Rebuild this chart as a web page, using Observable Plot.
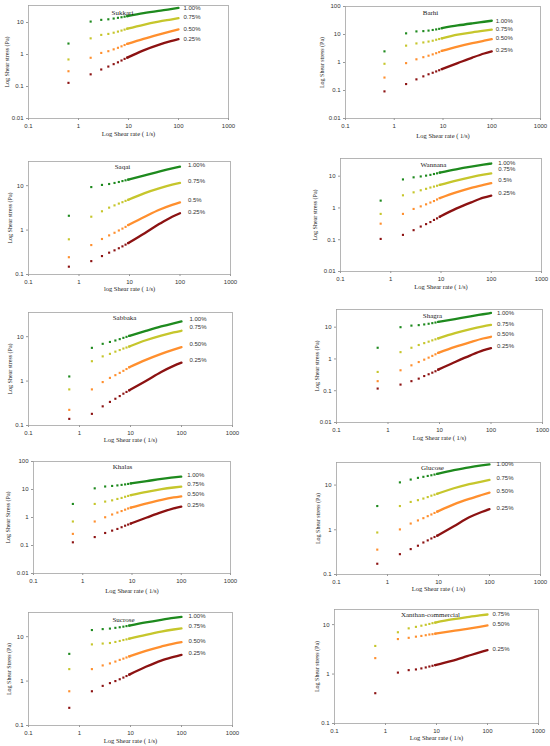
<!DOCTYPE html>
<html><head><meta charset="utf-8">
<script src="https://cdn.jsdelivr.net/npm/d3@7"></script>
<script src="https://cdn.jsdelivr.net/npm/@observablehq/plot@0.6"></script>
<style>
body{margin:0;background:#fff}
#wrap{position:relative;width:550px;height:746px;overflow:hidden;background:#fff}
.panel{position:absolute}
</style>
</head><body><div id="wrap"></div>
<script>
// ---- data ----
const shearRate = [0.63, 1.75, 2.85, 3.95, 5.05, 6.15, 7.25, 8.35, 9.45, 20, 40, 70, 100];
const conc4 = ["1.00%", "0.75%", "0.50%", "0.25%"];
const conc3 = ["0.75%", "0.50%", "0.25%"];
const xTicks = [0.1, 1, 10, 100, 1000];

const sukkari100 = [2.2, 10.7, 12.1, 12.6, 13.3, 14.0, 14.6, 15.2, 15.8, 19.5, 23, 26, 28.5];
const sukkari075 = [0.70, 3.2, 4.1, 4.4, 4.8, 5.2, 5.6, 6.0, 6.4, 8.5, 10.6, 12.4, 13.7];
const sukkari050 = [0.30, 0.79, 1.12, 1.27, 1.45, 1.62, 1.8, 1.98, 2.15, 3.1, 4.2, 5.3, 6.1];
const sukkari025 = [0.13, 0.24, 0.34, 0.42, 0.5, 0.57, 0.65, 0.73, 0.8, 1.35, 2.0, 2.6, 3.0];
const sukkariLabels = ["1.00%", "0.75%", "0.50%", "0.25%"];
const sukkariLabelY = [28, 14.4, 6.3, 3.1];

const barhi100 = [2.5, 11, 12.9, 13.2, 13.8, 14.5, 15.2, 15.9, 16.8, 21, 25, 28.5, 31];
const barhi075 = [0.9, 4.0, 4.8, 5.2, 5.6, 6.0, 6.5, 6.9, 7.3, 9.8, 12, 13.7, 14.8];
const barhi050 = [0.29, 0.95, 1.3, 1.55, 1.75, 1.95, 2.15, 2.35, 2.6, 3.7, 4.9, 6.0, 6.8];
const barhi025 = [0.093, 0.17, 0.25, 0.32, 0.38, 0.43, 0.48, 0.53, 0.58, 0.95, 1.5, 2.1, 2.5];
const barhiLabels = ["1.00%", "0.75%", "0.50%", "0.25%"];
const barhiLabelY = [31, 16, 7.7, 2.7];

const saqai100 = [2.1, 9.3, 10.4, 10.9, 11.5, 12.1, 12.7, 13.2, 13.7, 17, 21, 24.5, 26.7];
const saqai075 = [0.62, 2.0, 2.65, 3.2, 3.6, 3.95, 4.25, 4.55, 4.8, 6.8, 8.8, 10.5, 11.5];
const saqai050 = [0.245, 0.46, 0.63, 0.76, 0.87, 0.98, 1.08, 1.18, 1.3, 2.0, 2.9, 3.7, 4.2];
const saqai025 = [0.15, 0.2, 0.26, 0.31, 0.35, 0.39, 0.43, 0.47, 0.51, 0.85, 1.4, 2.0, 2.4];
const saqaiLabels = ["1.00%", "0.75%", "0.5%", "0.25%"];
const saqaiLabelY = [29, 12.9, 4.8, 2.5];

const wannana100 = [1.7, 7.9, 9.2, 9.8, 10.4, 11, 11.7, 12.3, 13, 16.5, 20, 23, 25];
const wannana075 = [0.65, 2.5, 3.1, 3.6, 4.0, 4.4, 4.7, 5.0, 5.3, 7.3, 9.4, 11.2, 12.3];
const wannana050 = [0.32, 0.65, 0.93, 1.12, 1.3, 1.48, 1.65, 1.85, 2.05, 3.1, 4.3, 5.3, 6.0];
const wannana025 = [0.106, 0.142, 0.2, 0.26, 0.31, 0.36, 0.42, 0.47, 0.53, 0.95, 1.5, 2.1, 2.45];
const wannanaLabels = ["1.00%", "0.75%", "0.5%", "0.25%"];
const wannanaLabelY = [26, 16.3, 7.3, 2.9];

const sabbaka100 = [1.27, 5.6, 6.9, 7.6, 8.2, 8.8, 9.4, 9.9, 10.4, 13.5, 17, 20, 22];
const sabbaka075 = [0.65, 2.8, 3.6, 4.1, 4.6, 5.0, 5.4, 5.7, 6.0, 8.3, 10.6, 12.5, 13.6];
const sabbaka050 = [0.225, 0.65, 0.95, 1.18, 1.36, 1.53, 1.7, 1.87, 2.05, 3.0, 4.1, 5.1, 5.8];
const sabbaka025 = [0.141, 0.183, 0.27, 0.34, 0.4, 0.46, 0.52, 0.57, 0.62, 1.0, 1.6, 2.2, 2.6];
const sabbakaLabels = ["1.00%", "0.75%", "0.50%", "0.25%"];
const sabbakaLabelY = [24.6, 16.5, 6.7, 3.0];

const shagra100 = [2.25, 10, 11.2, 11.6, 12.2, 12.8, 13.4, 14, 14.6, 18, 22, 25.5, 28];
const shagra075 = [0.39, 1.64, 2.25, 2.75, 3.15, 3.5, 3.85, 4.15, 4.45, 6.5, 8.7, 10.6, 11.8];
const shagra050 = [0.2, 0.44, 0.63, 0.8, 0.95, 1.1, 1.25, 1.4, 1.55, 2.4, 3.4, 4.4, 5.0];
const shagra025 = [0.117, 0.156, 0.2, 0.24, 0.29, 0.33, 0.37, 0.41, 0.46, 0.8, 1.3, 1.85, 2.2];
const shagraLabels = ["1.00%", "0.75%", "0.50%", "0.25%"];
const shagraLabelY = [28, 12.7, 6.0, 2.5];

const khalas100 = [3.05, 11, 12.8, 13.4, 14, 14.6, 15.2, 15.8, 16.5, 20, 24, 27, 29];
const khalas075 = [0.72, 3.05, 3.7, 4.1, 4.6, 5.0, 5.5, 5.9, 6.3, 8.3, 10.3, 11.8, 12.7];
const khalas050 = [0.26, 0.72, 1.02, 1.28, 1.5, 1.7, 1.9, 2.1, 2.25, 3.2, 4.3, 5.2, 5.7];
const khalas025 = [0.13, 0.2, 0.28, 0.34, 0.39, 0.45, 0.51, 0.56, 0.61, 1.0, 1.55, 2.1, 2.45];
const khalasLabels = ["1.00%", "0.75%", "0.50%", "0.25%"];
const khalasLabelY = [31.6, 16.1, 6.8, 2.75];

const glucose100 = [3.4, 11.5, 13.3, 14.5, 15.3, 16, 16.6, 17.2, 17.8, 21.5, 25, 27.5, 29];
const glucose075 = [0.87, 3.4, 4.2, 4.6, 5.0, 5.4, 5.8, 6.1, 6.4, 8.5, 10.5, 12, 13];
const glucose050 = [0.36, 1.02, 1.38, 1.62, 1.82, 2.02, 2.2, 2.38, 2.55, 3.7, 4.9, 6.0, 6.8];
const glucose025 = [0.174, 0.285, 0.37, 0.44, 0.52, 0.58, 0.64, 0.69, 0.74, 1.2, 1.9, 2.5, 2.9];
const glucoseLabels = ["1.00%", "0.75%", "0.50%", "0.25%"];
const glucoseLabelY = [29, 14, 7.3, 3.1];

const sucrose100 = [4.1, 14.1, 14.8, 15.2, 15.8, 16.3, 16.8, 17.3, 17.8, 21, 24, 26.5, 28];
const sucrose075 = [1.86, 6.7, 7.0, 7.2, 7.6, 8.0, 8.4, 8.7, 9.0, 11, 13, 14.5, 15.4];
const sucrose050 = [0.59, 1.86, 2.25, 2.5, 2.75, 3.0, 3.2, 3.4, 3.6, 4.8, 6.0, 7.0, 7.5];
const sucrose025 = [0.25, 0.59, 0.78, 0.9, 1.0, 1.1, 1.2, 1.3, 1.4, 2.1, 2.9, 3.5, 3.9];
const sucroseLabels = ["1.00%", "0.75%", "0.50%", "0.25%"];
const sucroseLabelY = [29, 17, 8.1, 4.2];

const xanthan075 = [3.7, 7.0, 8.4, 9.0, 9.5, 9.9, 10.3, 10.7, 11.0, 12.7, 14.2, 15.3, 16];
const xanthan050 = [2.1, 5.1, 5.4, 5.7, 5.9, 6.1, 6.3, 6.4, 6.55, 7.4, 8.2, 9.0, 9.6];
const xanthan025 = [0.41, 1.07, 1.2, 1.24, 1.3, 1.36, 1.42, 1.47, 1.52, 1.85, 2.3, 2.75, 3.05];
const xanthanLabels = ["0.75%", "0.50%", "0.25%"];
const xanthanLabelY = [16.5, 10.3, 3.25];

const yTicksA = [0.01, 0.1, 1, 10];
const yTicksB = [0.01, 0.1, 1, 10, 100];
const yTicksC = [0.1, 1, 10];

// ---- layout / style ----
const colorDomain = ["1.00%", "0.75%", "0.50%", "0.25%"];
const colorRange = ["#1e8a1e", "#c6c62c", "#ff8f2e", "#8c1212"];
const serif = "Liberation Serif, Times New Roman, serif";
const sans = "Liberation Sans, Arial, sans-serif";
const yLab = "Log Shear stress (Pa)";
const xLab = "Log Shear rate ( 1/s)";

const panels = [
  {title:"Sukkari", series:[sukkari100,sukkari075,sukkari050,sukkari025], conc:conc4, labels:sukkariLabels, labelY:sukkariLabelY,
   yDomain:[0.01,34], yTicks:yTicksA, off:[0,0], L:28,R:228,T:5,B:118, ylabX:7, xlabY:133, tx:122, ty:12, ldx:5, ylab:yLab, xlab:xLab},
  {title:"Barhi", series:[barhi100,barhi075,barhi050,barhi025], conc:conc4, labels:barhiLabels, labelY:barhiLabelY,
   yDomain:[0.01,100], yTicks:yTicksB, off:[275,0], L:345,R:540,T:6,B:118, ylabX:322, xlabY:135, tx:430, ty:12, ldx:4, ylab:yLab, xlab:xLab},
  {title:"Saqai", series:[saqai100,saqai075,saqai050,saqai025], conc:conc4, labels:saqaiLabels, labelY:saqaiLabelY,
   yDomain:[0.1,35], yTicks:yTicksC, off:[0,150], L:28,R:230,T:161,B:274, ylabX:10, xlabY:288, tx:122, ty:166, ldx:8, ylab:yLab, xlab:"log Shear rate ( 1/s)"},
  {title:"Wannana", series:[wannana100,wannana075,wannana050,wannana025], conc:conc4, labels:wannanaLabels, labelY:wannanaLabelY,
   yDomain:[0.01,36], yTicks:yTicksA, off:[275,150], L:340,R:541,T:158,B:271, ylabX:315, xlabY:286, tx:433, ty:164, ldx:7, ylab:yLab, xlab:xLab},
  {title:"Sabbaka", series:[sabbaka100,sabbaka075,sabbaka050,sabbaka025], conc:conc4, labels:sabbakaLabels, labelY:sabbakaLabelY,
   yDomain:[0.1,35], yTicks:yTicksC, off:[0,300], L:28,R:232,T:312,B:425, ylabX:10, xlabY:439, tx:124, ty:317, ldx:8, ylab:yLab, xlab:xLab},
  {title:"Shagra", series:[shagra100,shagra075,shagra050,shagra025], conc:conc4, labels:shagraLabels, labelY:shagraLabelY,
   yDomain:[0.01,36], yTicks:yTicksA, off:[275,300], L:336,R:542,T:309,B:422, ylabX:317, xlabY:437, tx:432, ty:315, ldx:6, ylab:yLab, xlab:xLab},
  {title:"Khalas", series:[khalas100,khalas075,khalas050,khalas025], conc:conc4, labels:khalasLabels, labelY:khalasLabelY,
   yDomain:[0.01,100], yTicks:yTicksB, off:[0,450], L:33,R:230,T:461,B:573, ylabX:8, xlabY:590, tx:122, ty:466, ldx:6, ylab:"Log Shear Stress (Pa)", xlab:xLab},
  {title:"Glucose", series:[glucose100,glucose075,glucose050,glucose025], conc:conc4, labels:glucoseLabels, labelY:glucoseLabelY,
   yDomain:[0.1,32], yTicks:yTicksC, off:[275,450], L:336,R:540,T:462,B:574, ylabX:318, xlabY:588, tx:432, ty:467, ldx:7, ylab:yLab, xlab:xLab},
  {title:"Sucrose", series:[sucrose100,sucrose075,sucrose050,sucrose025], conc:conc4, labels:sucroseLabels, labelY:sucroseLabelY,
   yDomain:[0.1,35], yTicks:yTicksC, off:[0,596], L:28,R:232,T:612,B:725, ylabX:9, xlabY:740, tx:123, ty:619, ldx:7, ylab:"Log Shear Stress (Pa)", xlab:xLab},
  {title:"Xanthan-commercial", series:[xanthan075,xanthan050,xanthan025], conc:conc3, labels:xanthanLabels, labelY:xanthanLabelY,
   yDomain:[0.1,20.2], yTicks:yTicksC, off:[275,596], L:334,R:538,T:609,B:723, ylabX:317, xlabY:737, tx:430, ty:614, ldx:5, ylab:yLab, xlab:xLab}
];

const fmt = d => String(d);
const wrap = document.getElementById("wrap");

for (const p of panels) {
  const rows = [];
  p.series.forEach((vals, k) => vals.forEach((v, i) => rows.push({x: shearRate[i], y: v, c: p.conc[k], i})));
  const labRows = p.labels.map((t, k) => ({t, x: shearRate[shearRate.length - 1], y: p.labelY[k], c: p.conc[k]}));
  const W = 275, H = 150;
  const [ox, oy] = p.off;
  const mL = p.L - ox, mR = ox + W - p.R, mT = p.T - oy, mB = oy + H - p.B;
  const cx = (p.L + p.R) / 2;
  const chart = Plot.plot({
    width: W, height: H,
    marginLeft: mL, marginRight: mR, marginTop: mT, marginBottom: mB,
    style: {background: "transparent", overflow: "visible"},
    x: {type: "log", domain: [0.1, 1000]},
    y: {type: "log", domain: p.yDomain},
    color: {domain: colorDomain, range: colorRange},
    marks: [
      Plot.frame({stroke: "#a3a3a3", strokeWidth: 0.8}),
      Plot.axisX(xTicks, {tickSize: 2, tickPadding: 3, tickFormat: fmt, fontSize: 6, fontFamily: sans, label: null, stroke: "#999", fill: "#333"}),
      Plot.axisY(p.yTicks, {tickSize: 2, tickPadding: 3, tickFormat: fmt, fontSize: 6, fontFamily: sans, label: null, stroke: "#999", fill: "#333"}),
      Plot.line(rows.filter(d => d.i >= 8), {x: "x", y: "y", z: "c", stroke: "c", strokeWidth: 2.3, curve: "monotone-x"}),
      Plot.dot(rows.filter(d => d.i <= 8), {x: "x", y: "y", fill: "c", r: 1.2, symbol: "square"}),
      Plot.text(labRows, {x: "x", y: "y", text: "t", dx: p.ldx, textAnchor: "start", fontSize: 6, fontFamily: sans, fill: "#333"}),
      Plot.text([p.title], {frameAnchor: "top", text: d => d, dx: p.tx - cx, dy: p.ty - p.T, lineAnchor: "middle", textAnchor: "middle", fontSize: 7, fontFamily: serif, fill: "#222"}),
      Plot.text([p.xlab], {frameAnchor: "bottom", text: d => d, dy: p.xlabY - p.B, lineAnchor: "middle", textAnchor: "middle", fontSize: 6.5, fontFamily: serif, fill: "#222"}),
      Plot.text([p.ylab], {frameAnchor: "left", text: d => d, dx: p.ylabX - p.L, rotate: -90, lineAnchor: "middle", textAnchor: "middle", fontSize: 6, fontFamily: serif, fill: "#222"})
    ]
  });
  chart.classList.add("panel");
  chart.style.left = ox + "px";
  chart.style.top = oy + "px";
  wrap.appendChild(chart);
}
</script>
</body></html>
